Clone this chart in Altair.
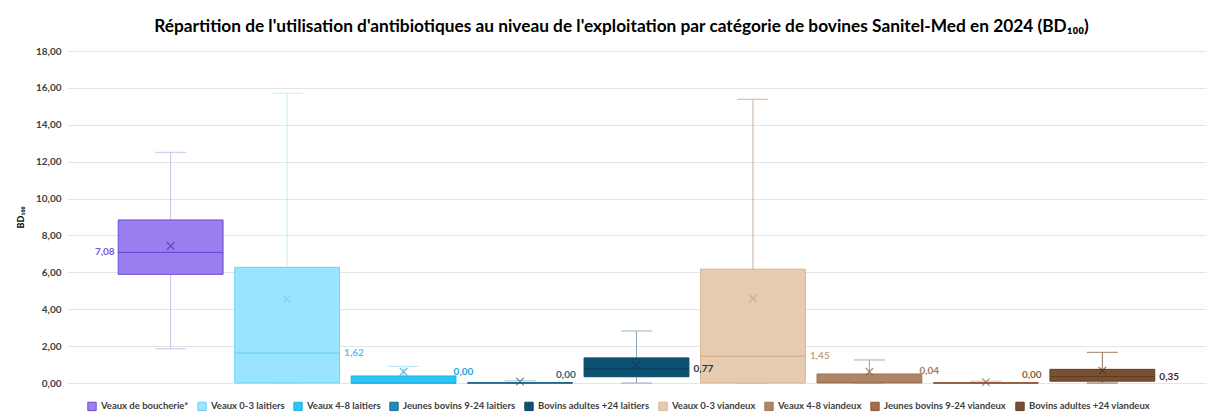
import altair as alt
import pandas as pd

categories = [
    "Veaux de boucherie*", "Veaux 0-3 laitiers", "Veaux 4-8 laitiers",
    "Jeunes bovins 9-24 laitiers", "Bovins adultes +24 laitiers",
    "Veaux 0-3 viandeux", "Veaux 4-8 viandeux",
    "Jeunes bovins 9-24 viandeux", "Bovins adultes +24 viandeux",
]
whisker_low = [1.86, 0.00, 0.00, 0.00, 0.00, 0.00, 0.00, 0.00, 0.00]
q1 = [5.89, 0.00, 0.00, 0.00, 0.34, 0.00, 0.00, 0.00, 0.10]
median = [7.08, 1.62, 0.00, 0.00, 0.77, 1.45, 0.04, 0.00, 0.35]
q3 = [8.84, 6.27, 0.38, 0.02, 1.36, 6.17, 0.49, 0.01, 0.74]
whisker_high = [12.50, 15.71, 0.90, 0.12, 2.82, 15.38, 1.25, 0.10, 1.66]
mean = [7.43, 4.55, 0.61, 0.08, 0.98, 4.58, 0.61, 0.05, 0.67]
y_ticks = [0, 2, 4, 6, 8, 10, 12, 14, 16, 18]

# styles
fill_colors = ["#9B7EF0", "#99E5FF", "#29C6F8", "#1B8DC0", "#0B5272",
               "#E6CBB0", "#B08565", "#A86B48", "#7A5033"]
stroke_colors = ["#6C4CD0", "#6FD3F7", "#22B0E5", "#1F6A8A", "#0A4560",
                 "#D5B594", "#9E7556", "#8E5A3C", "#5E3C25"]
whisker_colors = ["#C9BEE8", "#BFEBFA", "#A8E2F6", "#9DBFCE", "#8FA8B5",
                  "#C9AF9A", "#B99A85", "#CDB8AA", "#8C6C58"]
mean_colors = ["#4A2B9E", "#6ACFF5", "#2AA6D6", "#2A6A88", "#0A3A50",
               "#C4A284", "#8F6242", "#8B5A3C", "#4A2E1C"]
label_colors = ["#7A55E6", "#55C5F2", "#22A5D8", "#1D6587", "#17394E",
                "#C9A283", "#A47A5C", "#8E5E42", "#3F2A1C"]

df = pd.DataFrame({
    "cat": categories,
    "low": whisker_low, "q1": q1, "median": median, "q3": q3,
    "high": whisker_high, "mean": mean,
    "wcol": whisker_colors, "scol": stroke_colors,
    "mcol": mean_colors, "lcol": label_colors,
})

FONT = "Lato"
x = alt.X("cat:N", sort=categories, axis=None,
          scale=alt.Scale(paddingInner=0.1, paddingOuter=0.44))
yscale = alt.Scale(domain=[0, 18], nice=False)
yaxis = alt.Axis(values=y_ticks, title="BD₁₀₀",
                 labelExpr="replace(format(datum.value, '.2f'), '.', ',')")


def Y(field):
    return alt.Y(field, scale=yscale, axis=yaxis, title="BD₁₀₀")


base = alt.Chart(df)

whisk = base.mark_rule(strokeWidth=1).encode(
    x=x, y=Y("low:Q"), y2="high:Q",
    color=alt.Color("wcol:N", scale=None, legend=None),
)
cap_lo = base.mark_tick(size=31, thickness=1.3).encode(
    x=x, y=Y("low:Q"),
    color=alt.Color("wcol:N", scale=None, legend=None))
cap_hi = base.mark_tick(size=31, thickness=1.3).encode(
    x=x, y=Y("high:Q"),
    color=alt.Color("wcol:N", scale=None, legend=None))

box = base.mark_bar(strokeWidth=1).encode(
    x=x, y=Y("q1:Q"), y2="q3:Q",
    fill=alt.Fill("cat:N", sort=categories,
                  scale=alt.Scale(domain=categories, range=fill_colors),
                  legend=alt.Legend(title=None)),
    stroke=alt.Stroke("cat:N", sort=categories,
                      scale=alt.Scale(domain=categories, range=stroke_colors),
                      legend=alt.Legend(title=None)),
)
med = base.mark_bar(strokeWidth=1, fillOpacity=0).encode(
    x=x, y=Y("median:Q"), y2="median:Q",
    stroke=alt.Stroke("scol:N", scale=None, legend=None),
)
mean_pt = base.mark_point(shape="M-1,-1L1,1M-1,1L1,-1", size=56, filled=False,
                          strokeWidth=1.2).encode(
    x=x, y=Y("mean:Q"),
    color=alt.Color("mcol:N", scale=None, legend=None))

lbl_base = base.transform_calculate(
    lbl="replace(format(datum.median, '.2f'), '.', ',')")
lbl_enc = dict(x=x, y=Y("median:Q"), text="lbl:N",
               color=alt.Color("lcol:N", scale=None, legend=None))
txt = dict(baseline="middle", font=FONT, fontSize=10, fontWeight="bold")
lbl_right = lbl_base.transform_filter(
    (alt.datum.cat != categories[0]) & (alt.datum.median >= 0.1)).mark_text(
    align="left", dx=57, **txt).encode(**lbl_enc)
lbl_low = lbl_base.transform_filter(
    (alt.datum.median < 0.1) & (alt.datum.q3 >= 0.1)).mark_text(
    align="left", dx=50, dy=-11, **txt).encode(**lbl_enc)
lbl_flat = lbl_base.transform_filter(
    (alt.datum.median < 0.1) & (alt.datum.q3 < 0.1)).mark_text(
    align="left", dx=36, dy=-8, **txt).encode(**lbl_enc)
lbl_left = lbl_base.transform_filter(alt.datum.cat == categories[0]).mark_text(
    align="right", dx=-56, **txt).encode(**lbl_enc)

chart = alt.layer(whisk, cap_lo, cap_hi, box, med, mean_pt,
                  lbl_right, lbl_low, lbl_flat, lbl_left).properties(
    width=1139, height=332,
    autosize=alt.AutoSizeParams(type="none"),
    padding={"left": 59, "top": 43, "right": 1, "bottom": 29},
    title=alt.TitleParams(
        "Répartition de l'utilisation d'antibiotiques au niveau de l'exploitation par catégorie de bovines Sanitel-Med en 2024 (BD₁₀₀)",
        font=FONT, fontSize=17.3, fontWeight="bold", color="#000000",
        anchor="middle", offset=11, dx=-15),
).configure_view(stroke=None).configure_axisY(
    grid=True, gridColor="#E4E4E4", gridWidth=1, domain=False, ticks=False,
    labelFont=FONT, labelFontSize=10, labelFontWeight="bold", labelColor="#404040",
    labelPadding=6, labelOverlap=False, titleFont=FONT, titleFontSize=9,
    titleFontWeight="bold", titleColor="#000000", titlePadding=10,
).configure_legend(
    orient="none", legendX=20, legendY=350, direction="horizontal", columns=9,
    symbolType="square", symbolSize=70, symbolStrokeWidth=1, labelFont=FONT,
    labelFontSize=9.5, labelFontWeight="bold", labelColor="#404040", labelLimit=0,
    columnPadding=6, labelOffset=4,
)

chart.save("out.html", embed_options={"renderer": "svg", "actions": False})
